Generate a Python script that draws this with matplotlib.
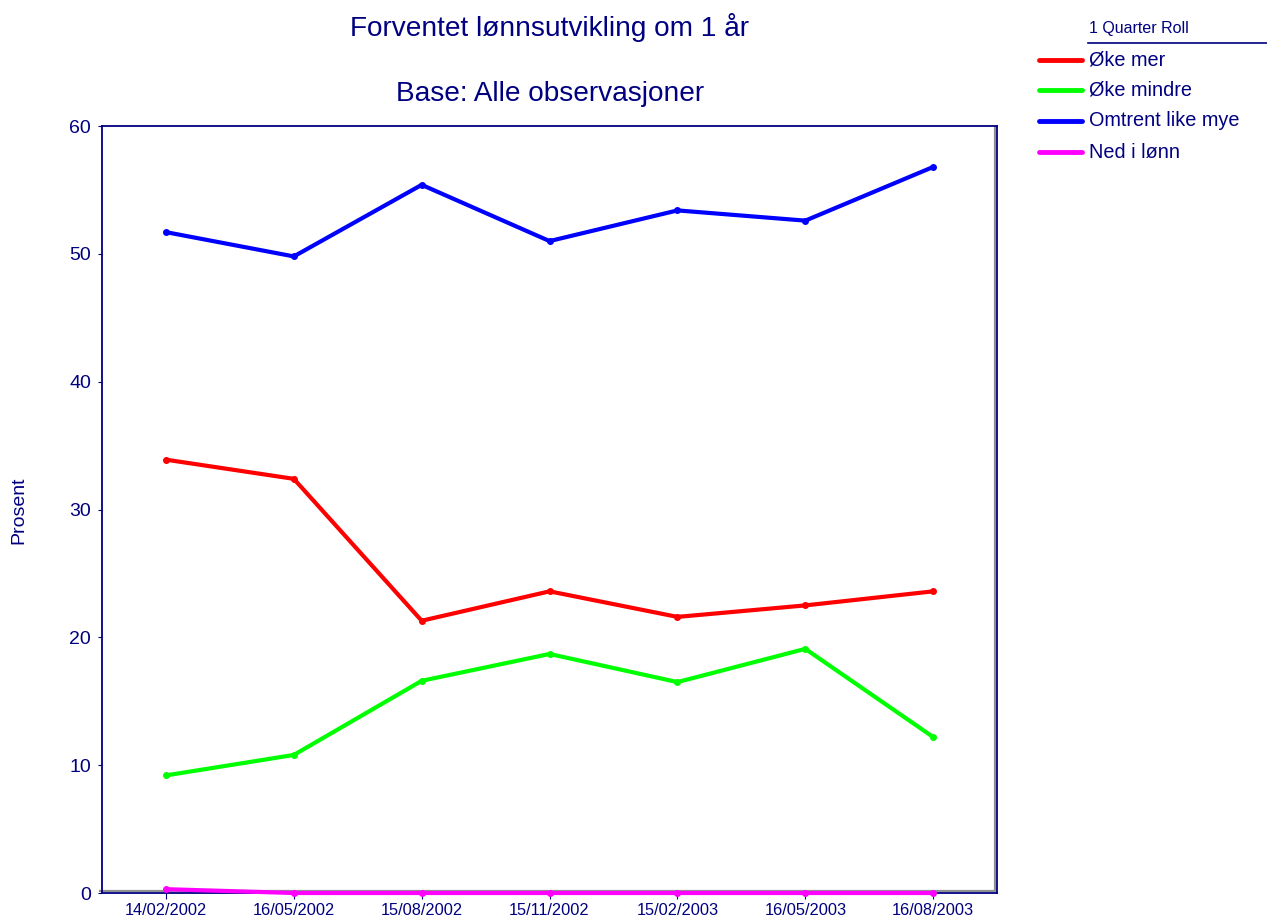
import matplotlib
matplotlib.use("Agg")
import matplotlib.pyplot as plt
from matplotlib.lines import Line2D
import matplotlib.transforms as mtransforms

plt.rcParams['font.family'] = ['Liberation Sans', 'DejaVu Sans']

dates = ["14/02/2002", "16/05/2002", "15/08/2002", "15/11/2002",
         "15/02/2003", "16/05/2003", "16/08/2003"]
oke_mer = [33.9, 32.4, 21.3, 23.6, 21.6, 22.5, 23.6]
oke_mindre = [9.2, 10.8, 16.6, 18.7, 16.5, 19.1, 12.2]
omtrent_like = [51.7, 49.8, 55.4, 51.0, 53.4, 52.6, 56.8]
ned_i_lonn = [0.3, 0.0, 0.0, 0.0, 0.0, 0.0, 0.0]

series_names = ["Øke mer", "Øke mindre", "Omtrent like mye", "Ned i lønn"]
series_values = [oke_mer, oke_mindre, omtrent_like, ned_i_lonn]
series_colors = ["#ff0000", "#00ff00", "#0000ff", "#ff00ff"]

navy = "#000080"

fig = plt.figure(figsize=(12.67, 9.16), dpi=100)
ax = fig.add_axes([0.0805, 0.0251, 0.7065, 0.8373])

x = list(range(len(dates)))

# grey inner shading along the bottom and right edges of the frame
shift = mtransforms.ScaledTranslation(-1.5 / 72, 1.5 / 72, fig.dpi_scale_trans)
ax.add_line(Line2D([0, 1, 1], [0, 0, 0.996], transform=ax.transAxes + shift,
                   color="#909090", lw=1.6, zorder=2, clip_on=False))

for name, vals, col in zip(series_names, series_values, series_colors):
    ax.plot(x, vals, color=col, lw=3, marker="o", ms=4, label=name,
            solid_capstyle="round", clip_on=False, zorder=3)

ax.set_xlim(-0.5, len(dates) - 0.5)
ax.set_ylim(0, 60)
ax.set_yticks([0, 10, 20, 30, 40, 50, 60])
ax.set_xticks(x)
ax.set_xticklabels(dates)

for s in ax.spines.values():
    s.set_color(navy)
    s.set_linewidth(1.3)

ax.tick_params(axis="y", colors=navy, labelsize=14, length=3, pad=5,
               labelcolor=navy)
ax.tick_params(axis="x", colors=navy, labelsize=11.8, length=4, pad=3,
               labelcolor=navy)

fig.text(19 / 1267, 1 - 510 / 916, "Prosent", rotation=90, ha="center",
         va="center", fontsize=14, color=navy)

fig.text(0.434, 1 - 28 / 916, "Forventet lønnsutvikling om 1 år", ha="center",
         va="center", fontsize=20.2, color=navy)
fig.text(0.434, 1 - 94 / 916, "Base: Alle observasjoner", ha="center",
         va="center", fontsize=20.2, color=navy)

# legend block
fig.text(1089 / 1267, 1 - 28 / 916, "1 Quarter Roll", ha="left",
         va="center", fontsize=11.5, color=navy)
fig.add_artist(Line2D([1088 / 1267, 1267 / 1267],
                      [1 - 43 / 916, 1 - 43 / 916],
                      color=navy, lw=1.2))
legend_y = [60, 90, 121, 152]
for name, col, yy in zip(series_names, series_colors, legend_y):
    yf = 1 - yy / 916
    fig.add_artist(Line2D([1039 / 1267, 1082 / 1267], [yf, yf], color=col,
                          lw=3.5, solid_capstyle="round"))
    fig.text(1089 / 1267, yf, name, ha="left", va="center", fontsize=14.3,
             color=navy)

fig.savefig("out.png", dpi=100)
